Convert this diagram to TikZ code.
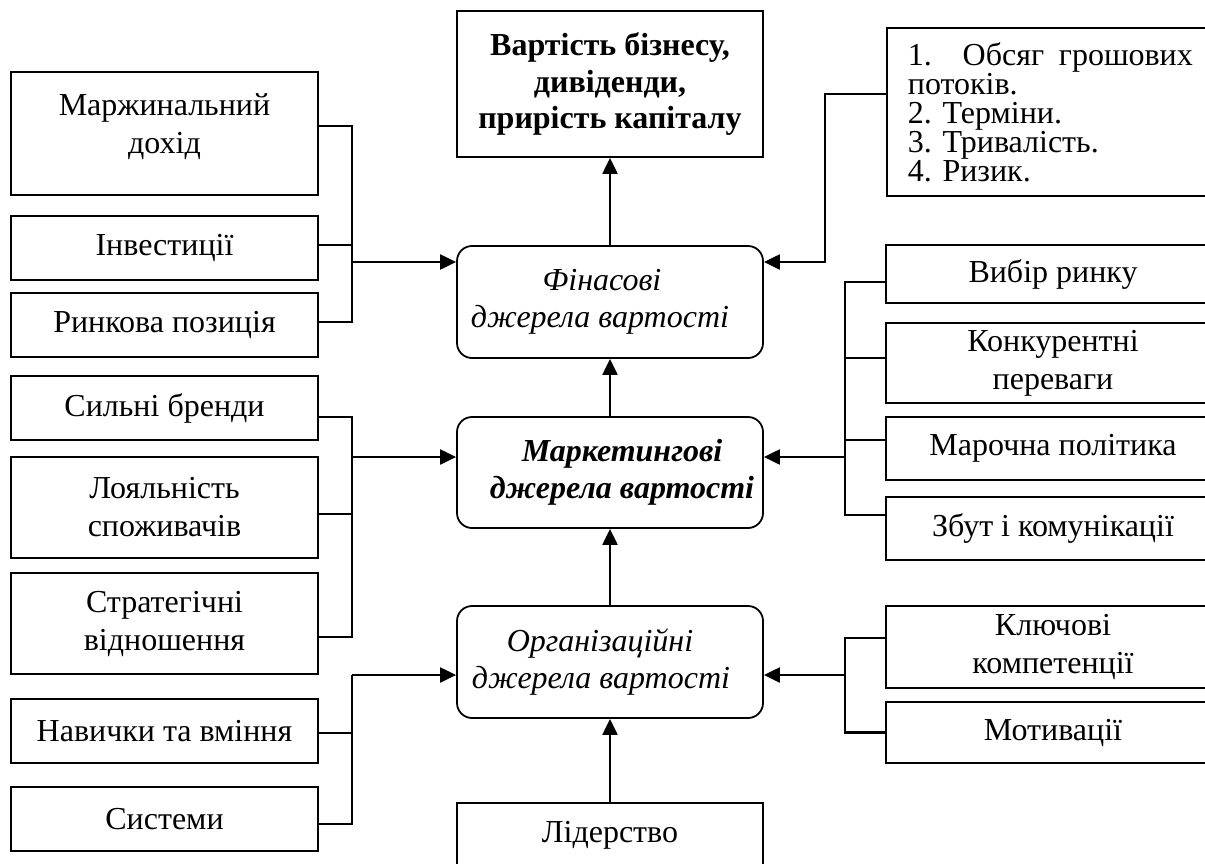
\documentclass[tikz,border=0pt]{standalone}
\usepackage{fontspec}
\setmainfont{Liberation Serif}
\usetikzlibrary{arrows.meta,calc}
\begin{document}
\begin{tikzpicture}[x=1pt,y=-1pt,
  box/.style={draw, line width=1.8pt, inner sep=0pt, align=center,
    font=\fontsize{32}{38}\selectfont},
  lbox/.style={box, minimum width=307pt},
  cbox/.style={box, minimum width=306pt},
  rbox/.style={box, minimum width=334pt},
  rbox2/.style={cbox, rounded corners=15pt},
  conn/.style={line width=2.2pt},
  arr/.style={conn, -{Triangle[length=16pt,width=15pt]}}]
\useasboundingbox (0,0) rectangle (1205,863);
\clip (0,0) rectangle (1205,863);

% left column
\node[lbox, minimum height=123pt] (marg) at (164.5,133.5) {Маржинальний\\дохід\\[-19pt]~};
\node[lbox, minimum height=64pt] (inv) at (164.5,248) {Інвестиції};
\node[lbox, minimum height=64pt] (rynk) at (164.5,325) {Ринкова позиція};
\node[lbox, minimum height=64pt] (brand) at (164.5,408) {Сильні бренди};
\node[lbox, minimum height=101pt] (loyal) at (164.5,507.5) {Лояльність\\споживачів};
\node[lbox, minimum height=101pt] (strat) at (164.5,623.5) {Стратегічні\\відношення};
\node[lbox, minimum height=64pt] (navy) at (164.5,731) {Навички та вміння};
\node[lbox, minimum height=64pt] (syst) at (164.5,819) {Системи};

% centre column
\node[cbox, minimum height=146pt, font=\fontsize{32}{36.5}\selectfont\bfseries] (top) at (610,84)
  {Вартість бізнесу,\\дивіденди,\\прирість капіталу};
\node[rbox2, minimum height=112pt, font=\fontsize{32}{37}\selectfont\itshape] (fin) at (610,302)
  {Фінасові\hspace*{16pt}\\джерела вартості\hspace*{20pt}};
\node[rbox2, minimum height=111pt, font=\fontsize{32}{37}\selectfont\bfseries\itshape] (mark) at (610,472.5)
  {\hspace*{24pt}Маркетингові\\\hspace*{24pt}джерела вартості};
\node[rbox2, minimum height=112pt, font=\fontsize{32}{37}\selectfont\itshape] (org) at (610,662)
  {Організаційні\hspace*{20pt}\\джерела вартості\hspace*{18pt}};
\node[cbox, minimum height=64pt] (lid) at (610,835) {Лідерство};

% right column
\node[box, anchor=north west, text width=285pt, inner xsep=21pt, inner ysep=0pt,
  minimum height=168pt, align=justify, font=\fontsize{32}{29}\selectfont] (list) at (886,27)
  {\hyphenpenalty=10000 1. Обсяг грошових потоків.\\2. Терміни.\\3. Тривалість.\\4. Ризик.};
\node[rbox, minimum height=58pt] (vybir) at (1053,274) {Вибір ринку};
\node[rbox, minimum height=80pt] (konk) at (1053,363) {Конкурентні\\переваги};
\node[rbox, minimum height=63pt] (marka) at (1053,448.5) {Марочна політика};
\node[rbox, minimum height=63pt] (zbut) at (1053,528.5) {Збут і комунікації};
\node[rbox, minimum height=82pt] (kluch) at (1053,647) {Ключові\\компетенції};
\node[rbox, minimum height=61pt] (motiv) at (1053,732.5) {Мотивації};

% bracket x positions
\coordinate (lx) at (352,0);
\coordinate (rx) at (845,0);
\coordinate (tx) at (825,0);

% attachment points
\coordinate (m1) at ([yshift=7.5pt]marg.east);
\coordinate (i1) at ([yshift=3pt]inv.east);
\coordinate (r1) at ([yshift=3pt]rynk.east);
\coordinate (b1) at ([yshift=-9pt]brand.east);
\coordinate (lo1) at ([yshift=-6.5pt]loyal.east);
\coordinate (s1) at ([yshift=-13.5pt]strat.east);
\coordinate (n1) at ([yshift=-2pt]navy.east);
\coordinate (sy1) at ([yshift=-5pt]syst.east);
\coordinate (fl) at ([yshift=40pt]fin.west);
\coordinate (fr) at ([yshift=40pt]fin.east);
\coordinate (ml) at ([yshift=15.5pt]mark.west);
\coordinate (mr) at ([yshift=15.5pt]mark.east);
\coordinate (ol) at ([yshift=-13pt]org.west);
\coordinate (or) at ([yshift=-13pt]org.east);
\coordinate (l1) at ([yshift=18pt]list.west);
\coordinate (v1) at ([yshift=-8pt]vybir.west);
\coordinate (k1) at ([yshift=5pt]konk.west);
\coordinate (ma1) at ([yshift=8.5pt]marka.west);
\coordinate (z1) at ([yshift=13.5pt]zbut.west);
\coordinate (kl1) at ([yshift=9pt]kluch.west);
\coordinate (mo1) at (motiv.west);

% left brackets
\draw[conn] (m1) -| (lx |- r1) -- (r1);
\draw[conn] (i1) -- (i1 -| lx);
\draw[arr] (fl -| lx) -- (fl);

\draw[conn] (b1) -| (lx |- s1) -- (s1);
\draw[conn] (lo1) -- (lo1 -| lx);
\draw[arr] (ml -| lx) -- (ml);

\draw[conn] (n1) -- (n1 -| lx);
\draw[conn] (sy1) -| (lx |- ol);
\draw[arr] (ol -| lx) -- (ol);

% right brackets
\draw[arr] (l1) -| (tx |- fr) -- (fr);

\draw[conn] (v1) -| (rx |- z1) -- (z1);
\draw[conn] (k1) -- (k1 -| rx);
\draw[conn] (ma1) -- (ma1 -| rx);
\draw[arr] (mr -| rx) -- (mr);

\draw[conn] (kl1) -| (rx |- mo1) -- (mo1);
\draw[arr] (or -| rx) -- (or);

% vertical chain
\draw[arr] (fin.north) -- (top.south);
\draw[arr] (mark.north) -- (fin.south);
\draw[arr] (org.north) -- (mark.south);
\draw[arr] (lid.north) -- (org.south);
\end{tikzpicture}
\end{document}
